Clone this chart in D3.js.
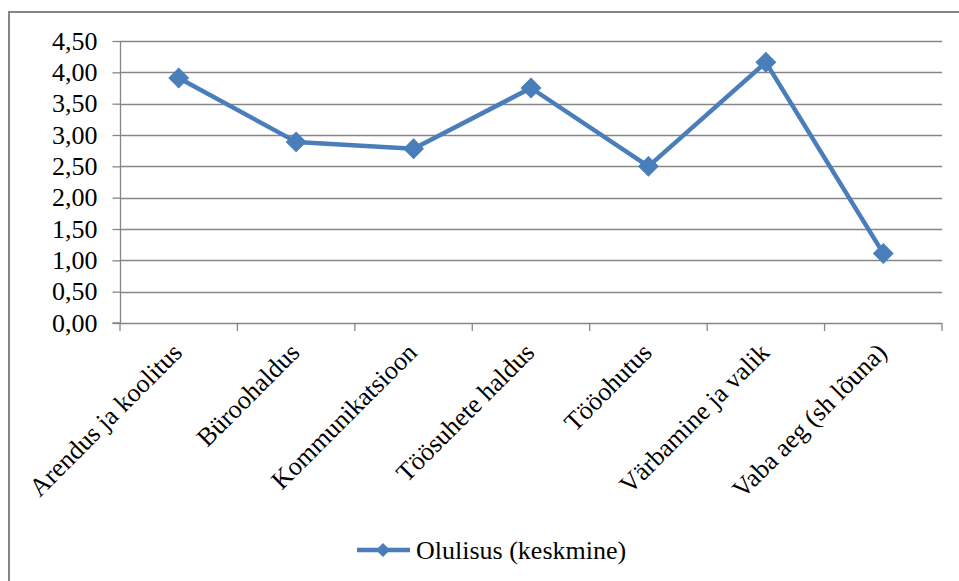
<!DOCTYPE html>
<html>
<head>
<meta charset="utf-8">
<script src="https://cdn.jsdelivr.net/npm/d3@7"></script>
<style>
  html, body { margin: 0; padding: 0; background: #fff; }
  svg { display: block; }
  svg text { font-family: "Liberation Serif", "Times New Roman", Times, "DejaVu Serif", serif !important; fill: #000; }
</style>
</head>
<body>
<svg id="chart" width="959" height="581"></svg>
<script>
// Average importance per HR area
const categories = ["Arendus ja koolitus", "Büroohaldus", "Kommunikatsioon", "Töösuhete haldus", "Tööohutus", "Värbamine ja valik", "Vaba aeg (sh lõuna)"];
const values = [3.91, 2.89, 2.78, 3.75, 2.50, 4.16, 1.11];
const yTicks = [0, 0.5, 1, 1.5, 2, 2.5, 3, 3.5, 4, 4.5];
const seriesName = "Olulisus (keskmine)";

const svg = d3.select("#chart");
const W = 959, H = 581;
const margin = { left: 120, right: 17, top: 41, bottom: 258 };
const blue = "#4A7EBB";
const grey = "#868686";
const fontSize = "26px";

// Outer chart frame
svg.append("rect")
  .attr("x", 9).attr("y", 12)
  .attr("width", W + 20).attr("height", H + 20)
  .attr("fill", "#fff").attr("stroke", grey).attr("stroke-width", 2);

const x = d3.scaleBand().domain(categories).range([margin.left, W - margin.right]).padding(0);
const y = d3.scaleLinear().domain([0, 4.5]).range([H - margin.bottom, margin.top]);

// Horizontal gridlines
svg.append("g")
  .selectAll("line")
  .data(yTicks.filter(d => d > 0))
  .join("line")
  .attr("x1", margin.left).attr("x2", W - margin.right)
  .attr("y1", d => Math.round(y(d)) + 0.5).attr("y2", d => Math.round(y(d)) + 0.5)
  .attr("stroke", grey).attr("stroke-width", 1.3);

// Y axis
const yAxis = svg.append("g")
  .attr("transform", `translate(${margin.left + 0.5},0)`)
  .call(d3.axisLeft(y).tickValues(yTicks).tickSize(8).tickPadding(15)
    .tickFormat(d => d3.format(".2f")(d).replace(".", ",")));
yAxis.attr("font-family", null).attr("font-size", null);
yAxis.selectAll("path, line").attr("stroke", grey).attr("stroke-width", 1.3);
yAxis.select(".domain").attr("d", `M-8,${y(0)}H0V${y(4.5)}`);
yAxis.selectAll("text").style("font-size", fontSize).attr("fill", "#000");

// X axis with ticks between categories
const xTickPos = categories.map(c => x(c)).concat([W - margin.right]);
const xAxis = svg.append("g");
xAxis.append("line")
  .attr("x1", margin.left).attr("x2", W - margin.right)
  .attr("y1", Math.round(y(0)) + 0.5).attr("y2", Math.round(y(0)) + 0.5)
  .attr("stroke", grey).attr("stroke-width", 1.3);
xAxis.selectAll("line.tick")
  .data(xTickPos)
  .join("line")
  .attr("class", "tick")
  .attr("x1", d => d).attr("x2", d => d)
  .attr("y1", y(0)).attr("y2", y(0) + 8)
  .attr("stroke", grey).attr("stroke-width", 1.3);

// Rotated category labels
svg.append("g")
  .selectAll("text")
  .data(categories)
  .join("text")
  .attr("transform", d => `translate(${x(d) + x.bandwidth() / 2 + 5},${y(0) + 31}) rotate(-45)`)
  .attr("text-anchor", "end")
  .style("font-size", fontSize)
  .text(d => d);

// Series line
const cx = (d, i) => x(categories[i]) + x.bandwidth() / 2;
const line = d3.line().x((d, i) => cx(d, i)).y(d => y(d));
svg.append("path")
  .datum(values)
  .attr("d", line)
  .attr("fill", "none")
  .attr("stroke", blue)
  .attr("stroke-width", 4.5)
  .attr("stroke-linejoin", "round");

// Diamond markers
const diamond = d3.symbol().type(d3.symbolSquare).size(190);
svg.append("g")
  .selectAll("path")
  .data(values)
  .join("path")
  .attr("d", diamond)
  .attr("transform", (d, i) => `translate(${cx(d, i)},${y(d)}) rotate(45)`)
  .attr("fill", blue)
  .attr("stroke", blue)
  .attr("stroke-width", 1);

// Legend
const leg = svg.append("g").attr("transform", "translate(357,550)");
leg.append("line").attr("x1", 0).attr("x2", 53).attr("y1", 0).attr("y2", 0)
  .attr("stroke", blue).attr("stroke-width", 4.5);
leg.append("path").attr("d", d3.symbol().type(d3.symbolSquare).size(100))
  .attr("transform", "translate(26,0) rotate(45)").attr("fill", blue);
leg.append("text").attr("x", 59).attr("y", 0).attr("dy", "0.33em")
  .style("font-size", fontSize).text(seriesName);
</script>
</body>
</html>
